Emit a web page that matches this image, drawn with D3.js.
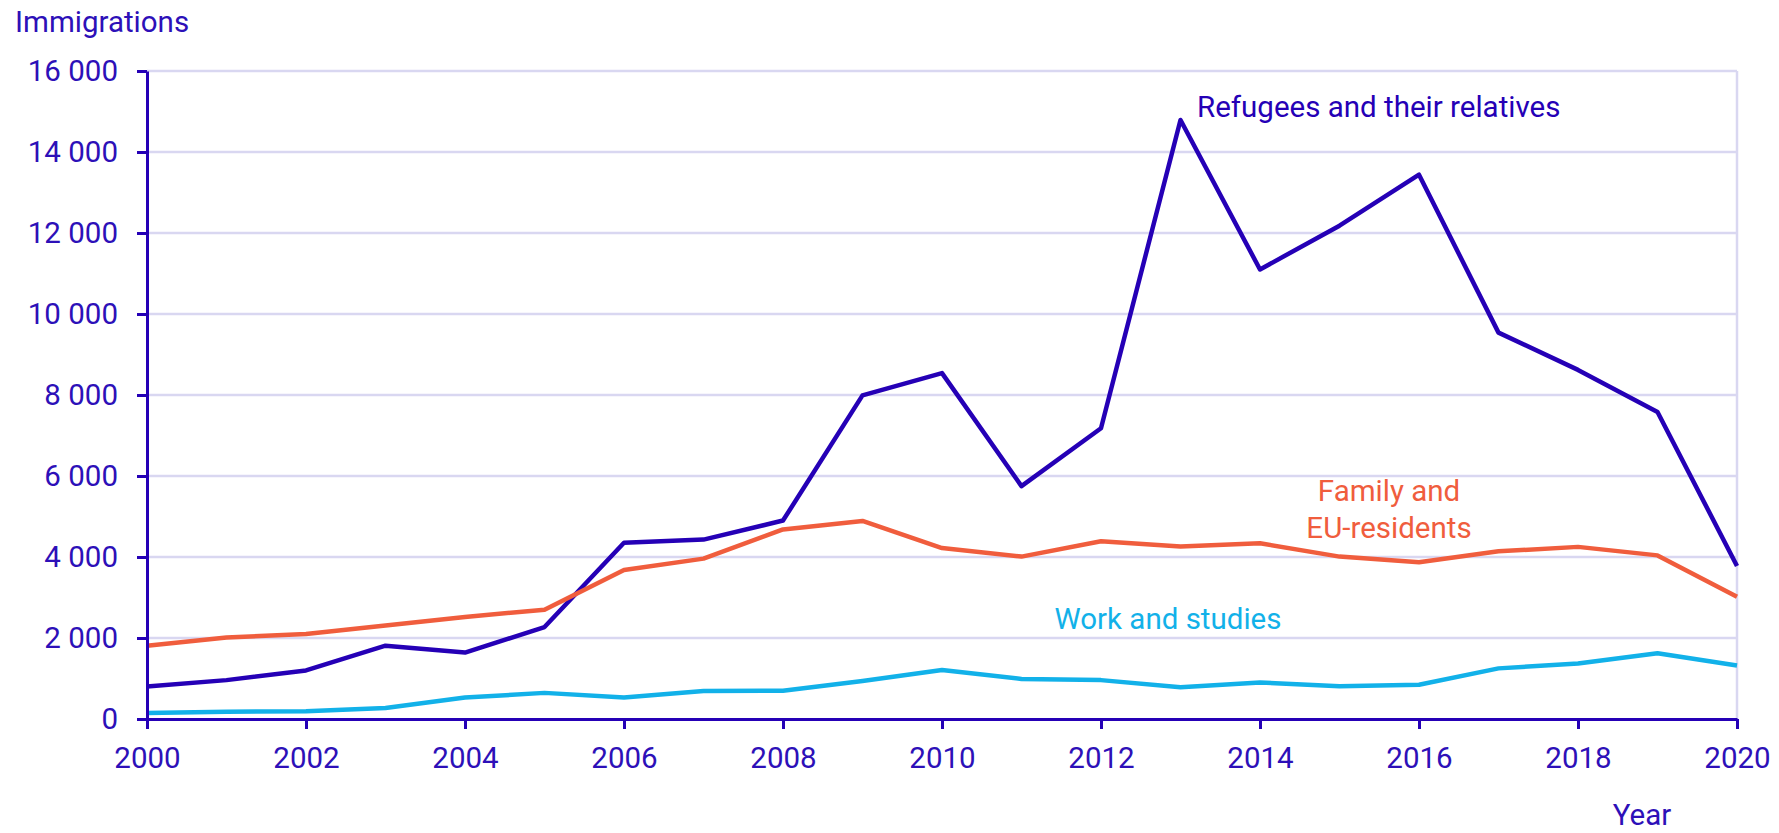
<!DOCTYPE html>
<html>
<head>
<meta charset="utf-8">
<script src="https://cdn.jsdelivr.net/npm/d3@7"></script>
<style>
  html, body { margin: 0; padding: 0; background: #ffffff; }
  svg { display: block; font-family: Roboto, "Noto Sans", sans-serif; }
</style>
</head>
<body>
<svg id="chart" width="1779" height="833"></svg>
<script>
const years = [2000,2001,2002,2003,2004,2005,2006,2007,2008,2009,2010,2011,2012,2013,2014,2015,2016,2017,2018,2019,2020];
const refugees = [800,960,1200,1810,1640,2270,4350,4430,4900,7990,8540,5750,7180,14790,11100,12180,13440,9540,8620,7580,3780];
const family = [1810,2010,2100,2310,2520,2700,3680,3960,4680,4890,4220,4010,4390,4260,4340,4010,3870,4140,4250,4040,3020];
const work = [150,180,190,270,530,645,530,690,700,940,1210,990,960,785,900,810,845,1250,1370,1625,1320];
const yTicks = [0,2000,4000,6000,8000,10000,12000,14000,16000];
const xTicks = [2000,2002,2004,2006,2008,2010,2012,2014,2016,2018,2020];
const seriesNames = ["Refugees and their relatives", "Family and EU-residents", "Work and studies"];

const axisColor = "#2500b6";
const textColor = "#2d10b8";
const gridColor = "#d9d7f1";
const colors = ["#2500b6", "#f05d3d", "#12b1e9"];
const fs = "29.5px";

const svg = d3.select("#chart");
const mLeft = 147, mRight = 1737, mTop = 71, mBottom = 719;

const x = d3.scaleLinear().domain([2000, 2020]).range([mLeft, mRight]);
const y = d3.scaleLinear().domain([0, 16000]).range([mBottom, mTop]);

const loc = d3.formatLocale({decimal: ".", thousands: " ", grouping: [3], currency: ["", ""]});
const fmt = loc.format(",");

// gridlines
svg.append("g").selectAll("line").data(yTicks.filter(d => d > 0)).join("line")
  .attr("x1", mLeft).attr("x2", mRight)
  .attr("y1", d => y(d)).attr("y2", d => y(d))
  .attr("stroke", gridColor).attr("stroke-width", 2.5);
// right border
svg.append("line").attr("x1", mRight).attr("x2", mRight).attr("y1", y(16000)).attr("y2", y(0))
  .attr("stroke", gridColor).attr("stroke-width", 2.5);

// lines
const line = d3.line().x((d, i) => x(years[i])).y(d => y(d));
[refugees, family, work].forEach((s, i) => {
  svg.append("path").datum(s)
    .attr("d", line)
    .attr("fill", "none")
    .attr("stroke", colors[i])
    .attr("stroke-width", 4.5)
    .attr("stroke-linejoin", "round");
});

// y axis
const yAxis = svg.append("g").attr("transform", `translate(${mLeft},0)`)
  .call(d3.axisLeft(y).tickValues(yTicks).tickFormat(fmt).tickSize(10).tickSizeOuter(0).tickPadding(19));
yAxis.select(".domain").attr("stroke", axisColor).attr("stroke-width", 3);
yAxis.selectAll(".tick line").attr("stroke", axisColor).attr("stroke-width", 3);
yAxis.selectAll("text").attr("fill", textColor).style("font-size", fs).style("font-family", "Roboto");

// x axis
const xAxis = svg.append("g").attr("transform", `translate(0,${mBottom})`)
  .call(d3.axisBottom(x).tickValues(xTicks).tickFormat(d3.format("d")).tickSize(10).tickSizeOuter(0));
xAxis.select(".domain").attr("stroke", axisColor).attr("stroke-width", 3);
xAxis.selectAll(".tick line").attr("stroke", axisColor).attr("stroke-width", 3);
xAxis.selectAll("text").attr("fill", textColor).attr("y", 49).attr("dy", null)
  .style("font-size", fs).style("font-family", "Roboto");

// titles
svg.append("text").attr("x", 15).attr("y", 32).attr("fill", textColor)
  .style("font-size", fs).text("Immigrations");
svg.append("text").attr("x", 1642).attr("y", 825).attr("text-anchor", "middle").attr("fill", textColor)
  .style("font-size", fs).text("Year");

// series labels
svg.append("text").attr("x", 1197).attr("y", 117).attr("fill", colors[0])
  .style("font-size", fs).text(seriesNames[0]);
const fam = svg.append("text").attr("x", 1389).attr("y", 501).attr("text-anchor", "middle").attr("fill", colors[1])
  .style("font-size", fs);
fam.append("tspan").attr("x", 1389).text("Family and");
fam.append("tspan").attr("x", 1389).attr("dy", 37).text("EU-residents");
svg.append("text").attr("x", 1168).attr("y", 629).attr("text-anchor", "middle").attr("fill", colors[2])
  .style("font-size", fs).text(seriesNames[2]);
</script>
</body>
</html>
